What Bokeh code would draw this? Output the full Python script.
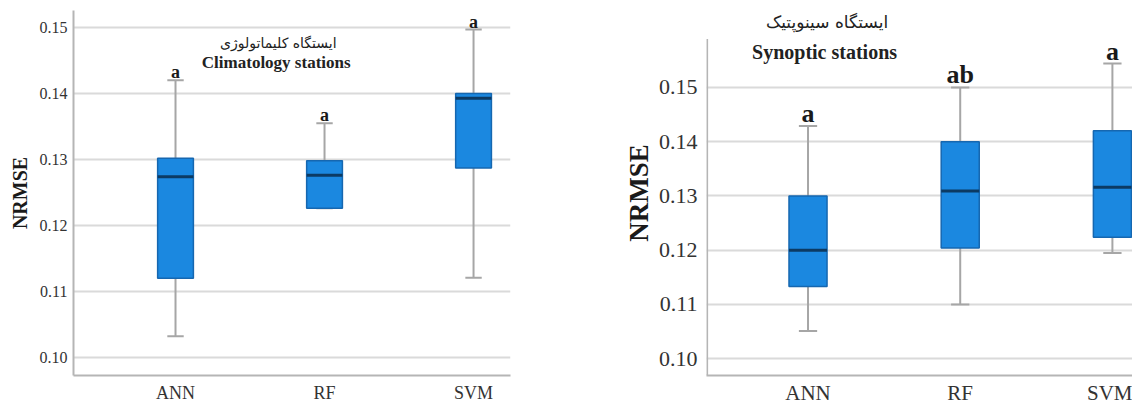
from bokeh.plotting import figure
from bokeh.layouts import row
from bokeh.models import FixedTicker, Range1d, ColumnDataSource, Label
from bokeh.core.properties import value
from bokeh.embed import file_html
from bokeh.resources import INLINE

models = ["ANN", "RF", "SVM"]
positions = [1, 2, 3]

# Climatology stations
clim_low = [0.1032, 0.1226, 0.1121]
clim_q1 = [0.1120, 0.1226, 0.1287]
clim_med = [0.1274, 0.1276, 0.1393]
clim_q3 = [0.1302, 0.1298, 0.1400]
clim_high = [0.1420, 0.1355, 0.1497]
clim_letters = ["a", "a", "a"]

# Synoptic stations
syn_low = [0.1051, 0.1100, 0.1195]
syn_q1 = [0.1133, 0.1204, 0.1224]
syn_med = [0.1200, 0.1309, 0.1316]
syn_q3 = [0.1300, 0.1400, 0.1420]
syn_high = [0.1429, 0.1500, 0.1544]
syn_letters = ["a", "ab", "a"]

y_ticks = [0.10, 0.11, 0.12, 0.13, 0.14, 0.15]

SERIF = "Liberation Serif"
SERIF_V = value(SERIF)
BOX_FILL = "#1b88e0"
BOX_LINE = "#1667b0"
MEDIAN = "#0c3a63"
WHISK = "#a6a6a6"
AXIS = "#b5b5b5"


def make_panel(low, q1, med, q3, high, letters, xr, yr, width, height, borders,
               tick_size, xtick_size, label_size, letter_size, box_w, cap_w,
               persian, english, title_y, title_x, fa_size, en_size,
               ytick_standoff, label_standoff, xtick_standoff, axis_top=None):
    p = figure(width=width, height=height, x_range=Range1d(*xr), y_range=Range1d(*yr),
               output_backend="svg", toolbar_location=None)
    p.min_border_left, p.min_border_right, p.min_border_top, p.min_border_bottom = borders
    p.outline_line_color = None
    p.background_fill_color = "white"
    p.xgrid.grid_line_color = None
    p.ygrid.grid_line_color = "#dadada"
    p.ygrid.grid_line_width = 2
    p.ygrid.ticker = FixedTicker(ticks=y_ticks)

    p.yaxis.ticker = FixedTicker(ticks=y_ticks)
    p.yaxis.major_label_overrides = {t: f"{t:.2f}" for t in y_ticks}
    p.xaxis.ticker = FixedTicker(ticks=positions)
    p.xaxis.major_label_overrides = {pos: m for pos, m in zip(positions, models)}
    for ax in (p.xaxis, p.yaxis):
        ax.major_tick_line_color = None
        ax.minor_tick_line_color = None
        ax.major_tick_out = 0
        ax.major_tick_in = 0
        ax.minor_tick_out = 0
        ax.minor_tick_in = 0
        ax.major_label_text_font = SERIF
        ax.major_label_text_color = "#333333"
        ax.axis_line_color = AXIS
        ax.axis_line_width = 2
    p.yaxis.major_label_text_font_size = f"{tick_size}px"
    p.xaxis.major_label_text_font_size = f"{xtick_size}px"
    p.yaxis.axis_label = "NRMSE"
    p.yaxis.axis_label_text_font = SERIF
    p.yaxis.axis_label_text_font_style = "bold"
    p.yaxis.axis_label_text_font_size = f"{label_size}px"
    p.yaxis.axis_label_text_color = "#1a1a1a"
    p.yaxis.axis_label_standoff = label_standoff
    p.yaxis.major_label_standoff = ytick_standoff
    p.xaxis.major_label_standoff = xtick_standoff

    if axis_top is not None:
        # y axis line only reaches part of the frame height
        p.yaxis.axis_line_color = None
        p.segment(x0=[xr[0] + 0.004], y0=[yr[0]], x1=[xr[0] + 0.004], y1=[axis_top],
                  line_color=AXIS, line_width=2)

    src = ColumnDataSource(dict(x=positions, low=low, q1=q1, med=med, q3=q3, high=high,
                                letters=letters,
                                cl=[x - cap_w / 2 for x in positions],
                                cr=[x + cap_w / 2 for x in positions],
                                bl=[x - box_w / 2 for x in positions],
                                br=[x + box_w / 2 for x in positions]))
    # whiskers
    p.segment(x0="x", y0="low", x1="x", y1="q1", source=src, line_color=WHISK, line_width=2)
    p.segment(x0="x", y0="q3", x1="x", y1="high", source=src, line_color=WHISK, line_width=2)
    p.segment(x0="cl", y0="low", x1="cr", y1="low", source=src, line_color=WHISK, line_width=2)
    p.segment(x0="cl", y0="high", x1="cr", y1="high", source=src, line_color=WHISK, line_width=2)
    # boxes
    p.vbar(x="x", width=box_w, bottom="q1", top="q3", source=src,
           fill_color=BOX_FILL, line_color=BOX_LINE, line_width=1.5)
    p.segment(x0="bl", y0="med", x1="br", y1="med", source=src, line_color=MEDIAN, line_width=3)
    # significance letters
    p.text(x="x", y="high", text="letters", source=src, text_font=SERIF_V,
           text_font_style="bold", text_font_size=f"{letter_size}px",
           text_align="center", text_baseline="bottom", text_color="#1a1a1a", y_offset=2)
    # titles
    p.add_layout(Label(x=title_x, y=title_y[0], text=persian, text_font="DejaVu Sans",
                       text_font_size=f"{fa_size}px", text_align="center",
                       text_baseline="middle", text_color="#222222"))
    p.add_layout(Label(x=title_x, y=title_y[1], text=english, text_font=SERIF,
                       text_font_style="bold", text_font_size=f"{en_size}px",
                       text_align="center", text_baseline="middle", text_color="#222222"))
    return p


left = make_panel(clim_low, clim_q1, clim_med, clim_q3, clim_high, clim_letters,
                  (0.3154, 3.248), (0.09727, 0.15258), 560, 412, (73, 50, 10, 37),
                  16, 18, 20, 18, 0.24, 0.11,
                  "ایستگاه کلیماتولوژی", "Climatology  stations",
                  (0.1477, 0.1447), 1.69, 14, 17, 6, 6, 7)

right = make_panel(syn_low, syn_q1, syn_med, syn_q3, syn_high, syn_letters,
                   (0.333, 3.132), (0.09691, 0.16418), 572, 412, (146, 0, 8, 34),
                   22, 21, 27, 26, 0.25, 0.12,
                   "ایستگاه سینوپتیک", "Synoptic  stations",
                   (0.1620, 0.15655), 1.125, 17, 20, 9, 2, 5, axis_top=0.15891)

layout = row(left, right)
open("out.html", "w").write(file_html(layout, INLINE))
